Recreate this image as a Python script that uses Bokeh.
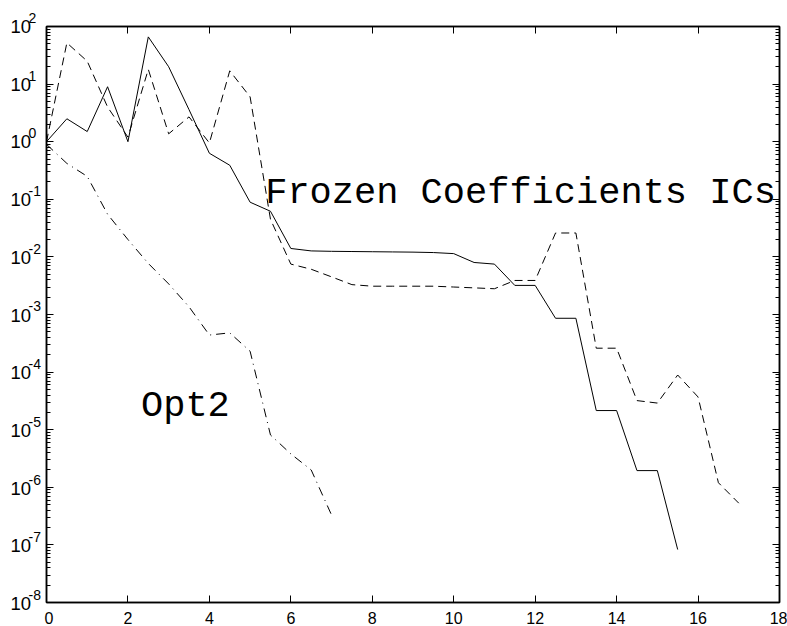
from bokeh.plotting import figure
from bokeh.layouts import row, column
from bokeh.models import (Range1d, FixedTicker, LinearAxis, LogAxis,
                          CustomJSTickFormatter)
from bokeh.core.properties import value
from bokeh.embed import file_html
from bokeh.resources import INLINE

# ---- data -------------------------------------------------------------
# solid curve
x_solid = [0, 0.5, 1, 1.5, 2, 2.5, 3, 3.5, 4, 4.5, 5, 5.5, 6, 6.5, 7, 7.5,
           8, 8.5, 9, 9.5, 10, 10.5, 11, 11.5, 12, 12.5, 13, 13.5, 14,
           14.5, 15, 15.5]
y_solid = [1.0, 2.5, 1.5, 9.0, 1.0, 66, 20, 3.6, 0.63, 0.39, 0.089, 0.062,
           0.014, 0.0127, 0.0125, 0.0124, 0.0123, 0.0122, 0.0121, 0.0119,
           0.0114, 0.0080, 0.0075, 0.0032, 0.0032, 8.6e-4, 8.6e-4, 2.15e-5,
           2.15e-5, 1.95e-6, 1.95e-6, 8.3e-8]

# dashed curve
x_dashed = [0, 0.5, 1, 1.5, 2, 2.5, 3, 3.5, 4, 4.5, 5, 5.5, 6, 6.5, 7, 7.5,
            8, 8.5, 9, 9.5, 10, 10.5, 11, 11.5, 12, 12.5, 13, 13.5, 14,
            14.5, 15, 15.5, 16, 16.5, 17]
y_dashed = [1.0, 52, 25, 4.0, 1.2, 18, 1.37, 2.7, 0.95, 17, 6.0, 0.045,
            0.0075, 0.0061, 0.0045, 0.0033, 0.0031, 0.0031, 0.0031, 0.0031,
            0.0030, 0.0029, 0.0028, 0.0039, 0.0039, 0.026, 0.026, 2.6e-4,
            2.6e-4, 3.2e-5, 2.9e-5, 8.9e-5, 3.7e-5, 1.2e-6, 5.3e-7]

# dash-dot curve (Opt2)
x_opt2 = [0, 0.5, 1, 1.5, 2, 2.5, 3, 3.5, 4, 4.5, 5, 5.5, 6, 6.5, 7]
y_opt2 = [0.9, 0.42, 0.25, 0.055, 0.02, 0.0077, 0.0034, 0.00136, 4.4e-4,
          4.8e-4, 2.3e-4, 8.1e-6, 3.8e-6, 2.0e-6, 3.3e-7]

# axis ticks
x_ticks = [0, 2, 4, 6, 8, 10, 12, 14, 16, 18]
y_exponents = [2, 1, 0, -1, -2, -3, -4, -5, -6, -7, -8]

# in-plot annotations
note_text = ["Frozen Coefficients ICs", "Opt2"]
note_x = [5.37, 2.32]
note_y = [0.131, 2.6e-5]

# ---- geometry -----------------------------------------------------------
W, H = 787, 626
LABEL_W = 44                      # strip holding the y tick labels
BORDER_TOP, BORDER_BOTTOM = 26, 23
DEC_LO, DEC_HI = -8, 2
px_per_dec = (H - BORDER_TOP - BORDER_BOTTOM) / (DEC_HI - DEC_LO)

# ---- main plot ------------------------------------------------------------
p = figure(width=W - LABEL_W, height=H, output_backend="svg",
           toolbar_location=None, y_axis_type="log",
           x_range=Range1d(0, 18), y_range=Range1d(10.0 ** DEC_LO, 10.0 ** DEC_HI),
           min_border_left=2, min_border_right=8,
           min_border_top=BORDER_TOP, min_border_bottom=BORDER_BOTTOM)
p.background_fill_color = "white"
p.border_fill_color = "white"
p.outline_line_color = "black"
p.outline_line_width = 1.5
p.xgrid.visible = False
p.ygrid.visible = False

major_y = [10.0 ** e for e in y_exponents]
minor_y = [m * 10.0 ** e for e in y_exponents[1:] for m in range(2, 10)]
yticker = FixedTicker(ticks=major_y, minor_ticks=minor_y)
xticker = FixedTicker(ticks=x_ticks)
blank = CustomJSTickFormatter(code="return ''")


def style_axis(ax, show_labels):
    ax.axis_line_color = "black"
    ax.axis_line_width = 1.5
    ax.major_tick_line_color = "black"
    ax.minor_tick_line_color = "black"
    ax.major_tick_in = 7
    ax.major_tick_out = 0
    ax.minor_tick_in = 4
    ax.minor_tick_out = 0
    if not show_labels:
        ax.formatter = blank
        ax.major_label_standoff = 0
        ax.axis_label_standoff = 0


# bottom axis
xa = p.xaxis[0]
xa.ticker = xticker
style_axis(xa, True)
xa.minor_tick_line_color = None
xa.major_label_text_font = "Liberation Sans"
xa.major_label_text_font_size = "16px"
xa.major_label_text_color = "black"
xa.major_label_standoff = 9

# left axis: ticks only, labels live in the strip beside it
ya = p.yaxis[0]
ya.ticker = yticker
style_axis(ya, False)

# mirrored axes on top and right
top = LinearAxis(ticker=xticker)
style_axis(top, False)
top.minor_tick_line_color = None
p.add_layout(top, "above")

right = LogAxis(ticker=yticker)
style_axis(right, False)
p.add_layout(right, "right")

# curves
p.line(x_solid, y_solid, line_color="black", line_width=1)
p.line(x_dashed, y_dashed, line_color="black", line_width=1,
       line_dash="8 5")
p.line(x_opt2, y_opt2, line_color="black", line_width=1,
       line_dash="9 5 1 5")

# annotations
p.text(x=note_x, y=note_y, text=note_text, text_font=value("Liberation Mono"),
       text_font_size="37px", text_color="black",
       text_baseline="alphabetic", text_align="left")

# ---- y tick label strip (same log scale as the main plot) --------------
lab = figure(width=LABEL_W, height=H, output_backend="svg",
             toolbar_location=None, y_axis_type="log",
             x_range=Range1d(0, LABEL_W),
             y_range=Range1d(10.0 ** (DEC_LO - BORDER_BOTTOM / px_per_dec),
                             10.0 ** (DEC_HI + BORDER_TOP / px_per_dec)),
             min_border=0, min_border_left=0, min_border_right=0,
             min_border_top=0, min_border_bottom=0,
             x_axis_location=None, y_axis_location=None)
lab.outline_line_color = None
lab.background_fill_color = "white"
lab.border_fill_color = "white"
lab.grid.visible = False

tick_vals = [10.0 ** e for e in y_exponents]
lab.text(x=[10] * len(tick_vals), y=tick_vals, text=["10"] * len(tick_vals),
         text_font=value("Liberation Sans"), text_font_size="18.5px",
         text_color="black", text_baseline="middle", text_align="left")
lab.text(x=[28] * len(tick_vals), y=tick_vals,
         text=[str(e) for e in y_exponents], y_offset=-8.6,
         text_font=value("Liberation Sans"), text_font_size="14px",
         text_color="black", text_baseline="alphabetic", text_align="left")

layout = row(column(lab), p, spacing=0)
open("out.html", "w").write(file_html(layout, INLINE))
